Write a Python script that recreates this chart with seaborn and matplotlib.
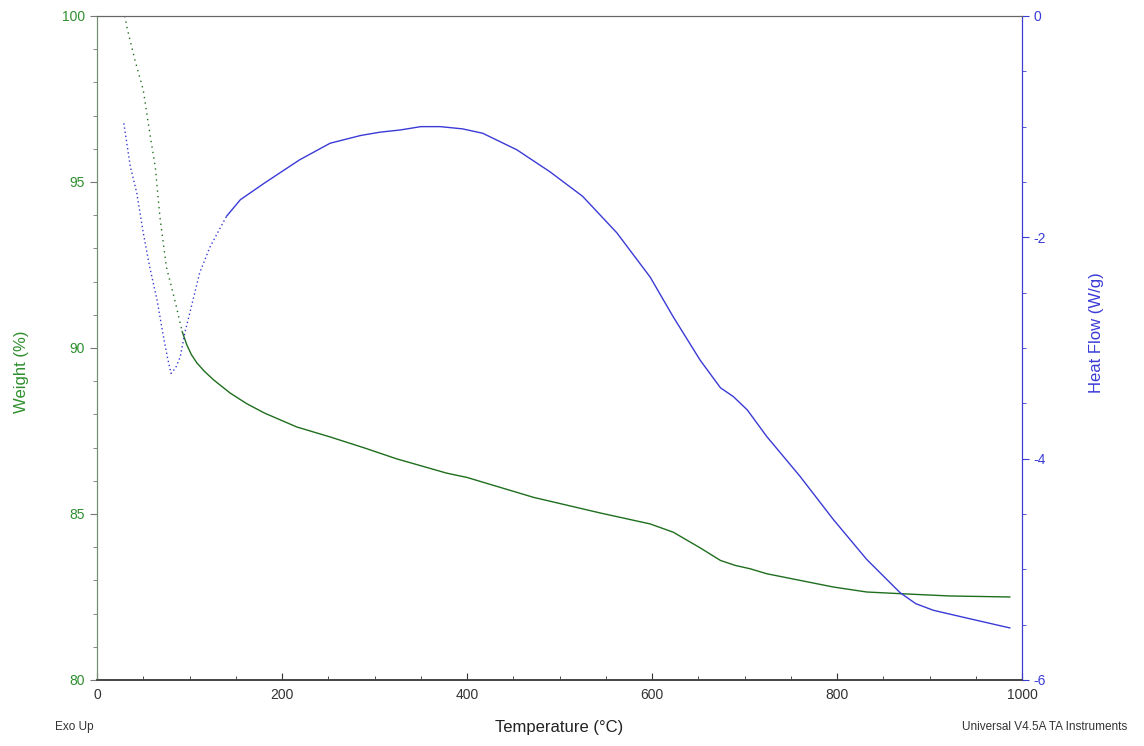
import matplotlib
matplotlib.use("Agg")
import matplotlib.pyplot as plt
from matplotlib.ticker import MultipleLocator
import seaborn as sns

# ---------------------------
# values read off the TGA / DSC trace
# ---------------------------
temp_w_fast = [30, 33, 41, 50, 57, 63, 68, 75, 84, 92]
weight_fast = [100.0, 99.58, 98.67, 97.77, 96.48, 95.45, 93.95, 92.44, 91.45, 90.5]

temp_w = [92, 97, 102, 108, 116, 126, 144, 162, 181, 216, 252, 289, 324, 378,
          400, 472, 544, 598, 623, 652, 674, 690, 706, 724, 760, 796, 832,
          868, 922, 987]
weight = [90.5, 90.1, 89.8, 89.55, 89.3, 89.04, 88.64, 88.32, 88.04, 87.62,
          87.32, 86.99, 86.66, 86.23, 86.1, 85.5, 85.03, 84.7, 84.45, 83.98,
          83.6, 83.45, 83.35, 83.2, 83.0, 82.8, 82.65, 82.6, 82.53, 82.5]

temp_h_fast = [29, 36, 43, 50, 57, 65, 71, 76, 80, 85, 90, 95, 101, 111, 122, 140]
heat_fast = [-0.97, -1.36, -1.6, -1.96, -2.27, -2.57, -2.86, -3.08, -3.23,
             -3.18, -3.08, -2.86, -2.66, -2.32, -2.09, -1.81]

temp_h = [140, 155, 181, 219, 252, 285, 306, 328, 350, 371, 395, 417, 454,
          490, 525, 562, 598, 623, 652, 674, 688, 703, 724, 760, 796, 832,
          868, 885, 904, 940, 987]
heat = [-1.81, -1.66, -1.51, -1.3, -1.15, -1.08, -1.05, -1.03, -1.0, -1.0,
        -1.02, -1.06, -1.21, -1.41, -1.63, -1.96, -2.36, -2.72, -3.11, -3.36,
        -3.44, -3.56, -3.8, -4.16, -4.55, -4.91, -5.21, -5.31, -5.37, -5.44,
        -5.53]

green = "#2f8f2f"
green_line = "#1e6e1e"
blue = "#3a3ad6"

sns.set_style("white")
plt.rcParams["font.family"] = ["Liberation Sans", "DejaVu Sans"]
plt.rcParams["axes.unicode_minus"] = False

fig = plt.figure(figsize=(11.44, 7.46), dpi=100)
ax = fig.add_axes([0.0848, 0.0885, 0.8086, 0.8901])
ax2 = ax.twinx()

sns.lineplot(x=temp_w_fast, y=weight_fast, ax=ax, color=green_line, linewidth=1.0,
             linestyle=(0, (1, 3)))
sns.lineplot(x=temp_w, y=weight, ax=ax, color=green_line, linewidth=1.0)
sns.lineplot(x=temp_h_fast, y=heat_fast, ax=ax2, color=blue, linewidth=1.0,
             linestyle=(0, (1, 2)))
sns.lineplot(x=temp_h, y=heat, ax=ax2, color=blue, linewidth=1.0)

ax.set_xlim(0, 1000)
ax.set_ylim(80, 100)
ax2.set_ylim(-6, 0)

ax.xaxis.set_major_locator(MultipleLocator(200))
ax.xaxis.set_minor_locator(MultipleLocator(50))
ax.yaxis.set_major_locator(MultipleLocator(5))
ax.yaxis.set_minor_locator(MultipleLocator(1))
ax2.yaxis.set_major_locator(MultipleLocator(2))
ax2.yaxis.set_minor_locator(MultipleLocator(0.5))

ax.tick_params(axis="x", which="both", direction="in", bottom=True, top=False,
               labelsize=10, colors="#333333", pad=6)
ax.tick_params(axis="x", which="major", length=5)
ax.tick_params(axis="x", which="minor", length=3)
ax.tick_params(axis="y", which="both", direction="out", left=True, right=False,
               labelsize=10, labelcolor=green, color="#777777")
ax.tick_params(axis="y", which="major", length=5)
ax.tick_params(axis="y", which="minor", length=3)
ax2.tick_params(axis="y", which="both", direction="out", right=True,
                labelsize=10, labelcolor=blue, color=blue)
ax2.tick_params(axis="y", which="major", length=5)
ax2.tick_params(axis="y", which="minor", length=3)

for a in (ax, ax2):
    a.spines["top"].set_color("#666666")
    a.spines["bottom"].set_color("#444444")
    a.spines["left"].set_color("#6f8f6f")
    a.spines["right"].set_color(blue)
    a.spines["bottom"].set_linewidth(1.2)

ax.set_xlabel("Temperature (°C)", fontsize=12, color="#222222", labelpad=13)
ax.set_ylabel("Weight (%)", fontsize=12, color=green)
ax.yaxis.set_label_coords(-0.074, 0.464)
ax2.set_ylabel("Heat Flow (W/g)", fontsize=12, color=blue)
ax2.yaxis.set_label_coords(1.072, 0.523)

fig.text(0.048, 0.022, "Exo Up", fontsize=8.5, color="#333333", ha="left")
fig.text(0.985, 0.022, "Universal V4.5A TA Instruments", fontsize=8.5,
         color="#333333", ha="right")

plt.savefig("out.png", dpi=100)
plt.close()
